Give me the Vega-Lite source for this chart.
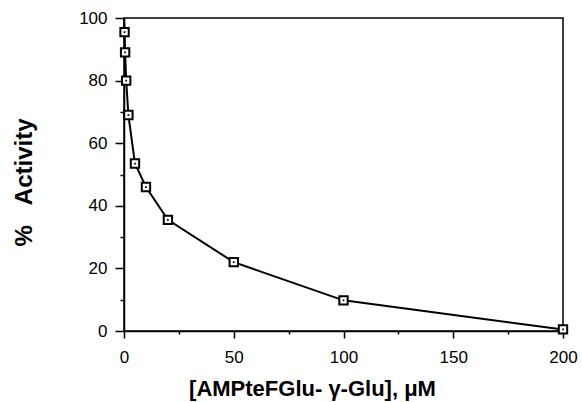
{
  "$schema": "https://vega.github.io/schema/vega-lite/v6.json",
  "width": 439,
  "height": 313,
  "autosize": {"type": "none"},
  "padding": {"left": 124, "top": 18, "right": 19, "bottom": 71},
  "background": "white",
  "config": {
    "view": {"stroke": "black", "strokeWidth": 1.5},
    "font": "Liberation Sans",
    "axis": {"grid": false, "domainColor": "black", "domainWidth": 1.5, "tickColor": "black", "tickWidth": 1.5, "labelColor": "black", "titleColor": "black", "labelFont": "Liberation Sans", "titleFont": "Liberation Sans"}
  },
  "data": {"values": [
    {"conc": 0, "activity": 100},
    {"conc": 0.25, "activity": 95.5},
    {"conc": 0.5, "activity": 89},
    {"conc": 1, "activity": 80},
    {"conc": 2, "activity": 69},
    {"conc": 5, "activity": 53.5},
    {"conc": 10, "activity": 46},
    {"conc": 20, "activity": 35.5},
    {"conc": 50, "activity": 22},
    {"conc": 100, "activity": 9.8},
    {"conc": 200, "activity": 0.5}
  ]},
  "resolve": {"axis": {"x": "independent", "y": "independent"}},
  "layer": [
    {
      "mark": {"type": "line", "color": "black", "strokeWidth": 2},
      "encoding": {
        "x": {"field": "conc", "type": "quantitative", "scale": {"domain": [0, 200], "nice": false},
          "axis": {"values": [0, 50, 100, 150, 200], "tickSize": 7, "labelPadding": 11, "labelFontSize": 17, "labelFlush": false,
            "title": "[AMPteFGlu- γ-Glu], μM", "titleFontSize": 22, "titleFontWeight": "bold", "titleX": 188, "titleY": 64, "titleBaseline": "alphabetic", "titleAnchor": null, "titleAlign": "center"}},
        "y": {"field": "activity", "type": "quantitative", "scale": {"domain": [0, 100], "nice": false},
          "axis": {"values": [0, 20, 40, 60, 80, 100], "tickSize": 9, "labelPadding": 8, "labelFontSize": 17, "labelFlush": false,
            "title": "%\u00a0\u00a0\u00a0Activity", "titleFontSize": 24, "titleFontWeight": "bold", "titleX": -100, "titleY": 164, "titleAngle": -90, "titleBaseline": "middle", "titleAlign": "center", "titleAnchor": null}}
      }
    },
    {
      "transform": [{"filter": "datum.conc > 0"}],
      "mark": {"type": "point", "shape": "square", "size": 70, "filled": true, "fill": "white", "stroke": "black", "strokeWidth": 2, "opacity": 1},
      "encoding": {
        "x": {"field": "conc", "type": "quantitative", "axis": {"orient": "bottom", "values": [25, 75, 125, 175], "tickSize": 3, "labels": false, "domain": false, "title": null}},
        "y": {"field": "activity", "type": "quantitative", "axis": {"orient": "left", "values": [10, 30, 50, 70, 90], "tickSize": 4, "labels": false, "domain": false, "title": null}}
      }
    },
    {
      "transform": [{"filter": "datum.conc > 0"}],
      "mark": {"type": "point", "shape": "square", "size": 3, "filled": true, "color": "black", "opacity": 1},
      "encoding": {
        "x": {"field": "conc", "type": "quantitative", "axis": null},
        "y": {"field": "activity", "type": "quantitative", "axis": null}
      }
    }
  ]
}
